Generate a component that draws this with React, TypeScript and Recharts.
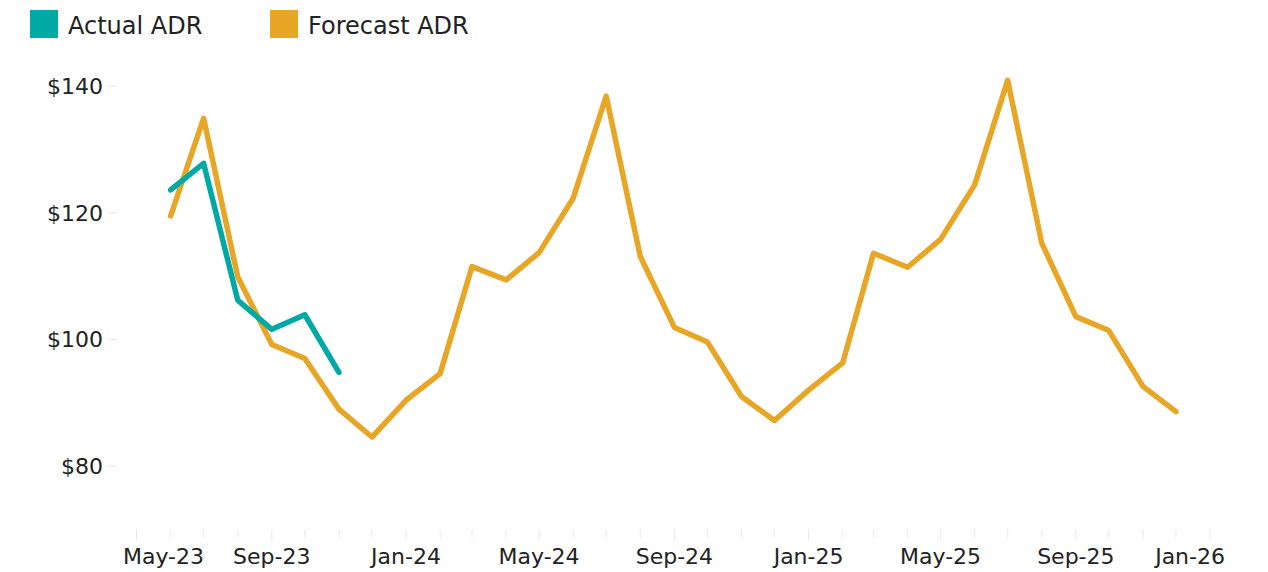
import { LineChart, Line, XAxis, YAxis } from "recharts"

const MONTHS = [
  "2023-06-01", "2023-07-01", "2023-08-01", "2023-09-01", "2023-10-01", "2023-11-01",
  "2023-12-01", "2024-01-01", "2024-02-01", "2024-03-01", "2024-04-01", "2024-05-01",
  "2024-06-01", "2024-07-01", "2024-08-01", "2024-09-01", "2024-10-01", "2024-11-01",
  "2024-12-01", "2025-01-01", "2025-02-01", "2025-03-01", "2025-04-01", "2025-05-01",
  "2025-06-01", "2025-07-01", "2025-08-01", "2025-09-01", "2025-10-01", "2025-11-01",
  "2025-12-01",
]

const FORECAST_ADR = [
  119.5, 134.9, 109.9, 99.2, 97.0, 89.0,
  84.6, 90.4, 94.6, 111.5, 109.4, 113.7,
  122.3, 138.4, 113.1, 101.9, 99.6, 91.0,
  87.2, 92.0, 96.3, 113.6, 111.4, 115.8,
  124.4, 140.9, 115.2, 103.6, 101.4, 92.6,
  88.6,
]

const ACTUAL_ADR = [123.6, 127.8, 106.2, 101.6, 103.9, 94.8]

const TICK_LABELS = ["May-23", "Sep-23", "Jan-24", "May-24", "Sep-24", "Jan-25", "May-25", "Sep-25", "Jan-26"]
const LABEL_DATES = [
  "2023-05-01", "2023-09-01", "2024-01-01", "2024-05-01", "2024-09-01",
  "2025-01-01", "2025-05-01", "2025-09-01", "2026-01-01",
]
const Y_TICKS = [80, 100, 120, 140]

const TEAL = "#00a9a6"
const GOLD = "#e8a626"
const FONT = "'DejaVu Sans', Verdana, sans-serif"

const toTs = (s: string) => Date.parse(s + "T00:00:00Z")
const DAY = 86400000

const data = MONTHS.map((m, i) => ({
  date: toTs(m),
  forecast: FORECAST_ADR[i],
  actual: i < ACTUAL_ADR.length ? ACTUAL_ADR[i] : null,
}))

// monthly minor ticks from first to last label month
const monthTicks: number[] = []
{
  const d = new Date(toTs(LABEL_DATES[0]))
  const end = toTs(LABEL_DATES[LABEL_DATES.length - 1])
  while (d.getTime() <= end) {
    monthTicks.push(d.getTime())
    d.setUTCMonth(d.getUTCMonth() + 1)
  }
}
const labelTs = LABEL_DATES.map(toTs)

const X_DOMAIN = [toTs("2024-01-01") - 257.3 * DAY, toTs("2024-01-01") + 744.6 * DAY]

const XTick = (props: any) => {
  const { x, y, payload } = props
  const idx = labelTs.indexOf(payload.value)
  const isMajor = idx >= 0
  let anchor = "middle"
  let tx = x
  if (idx === 0) {
    anchor = "start"
    tx = 123
  } else if (idx === labelTs.length - 1) {
    anchor = "end"
    tx = 1225
  }
  return (
    <g>
      <line x1={x} x2={x} y1={y} y2={y + (isMajor ? 11 : 8)} stroke="#e8e8e8" strokeWidth={1} />
      {isMajor && (
        <text x={tx} y={y + 34} textAnchor={anchor} fontSize={22} fill="#222" fontFamily={FONT}>
          {TICK_LABELS[idx]}
        </text>
      )}
    </g>
  )
}

const YTick = (props: any) => {
  const { x, y, payload } = props
  return (
    <g>
      <line x1={x - 15} x2={x - 6} y1={y} y2={y} stroke="#e8e8e8" strokeWidth={1} />
      <text x={x - 20} y={y} dy="0.36em" textAnchor="end" fontSize={22} fill="#222" fontFamily={FONT}>
        {"$" + payload.value}
      </text>
    </g>
  )
}

const LegendItem = ({ color, label, left }: { color: string; label: string; left: number }) => (
  <div style={{ position: "absolute", left, top: 10, display: "flex", alignItems: "flex-start" }}>
    <div style={{ width: 28, height: 28, background: color }} />
    <span style={{ marginLeft: 10, marginTop: 2, fontSize: 24, fontFamily: FONT, color: "#222", lineHeight: "28px" }}>
      {label}
    </span>
  </div>
)

export default function App() {
  return (
    <div style={{ position: "absolute", left: 0, top: 0, width: 1268, height: 572, background: "#fff" }}>
      <LineChart width={1268} height={572} data={data} margin={{ top: 22.7, right: 43, bottom: 0, left: 0 }}>
        <XAxis
          dataKey="date"
          type="number"
          scale="time"
          domain={X_DOMAIN}
          allowDataOverflow
          ticks={monthTicks}
          interval={0}
          tick={<XTick />}
          tickLine={false}
          axisLine={false}
          tickSize={0}
          tickMargin={0}
          height={42.5}
        />
        <YAxis
          type="number"
          domain={[70, 150]}
          allowDataOverflow
          ticks={Y_TICKS}
          tick={<YTick />}
          tickLine={false}
          axisLine={false}
          tickSize={0}
          tickMargin={0}
          width={123}
        />
        <Line
          dataKey="forecast"
          stroke={GOLD}
          strokeWidth={5.5}
          strokeLinecap="round"
          strokeLinejoin="round"
          dot={false}
          activeDot={false}
          isAnimationActive={false}
        />
        <Line
          dataKey="actual"
          stroke={TEAL}
          strokeWidth={5.5}
          strokeLinecap="round"
          strokeLinejoin="round"
          dot={false}
          activeDot={false}
          connectNulls={false}
          isAnimationActive={false}
        />
      </LineChart>
      <LegendItem color={TEAL} label="Actual ADR" left={30} />
      <LegendItem color={GOLD} label="Forecast ADR" left={270} />
    </div>
  )
}
